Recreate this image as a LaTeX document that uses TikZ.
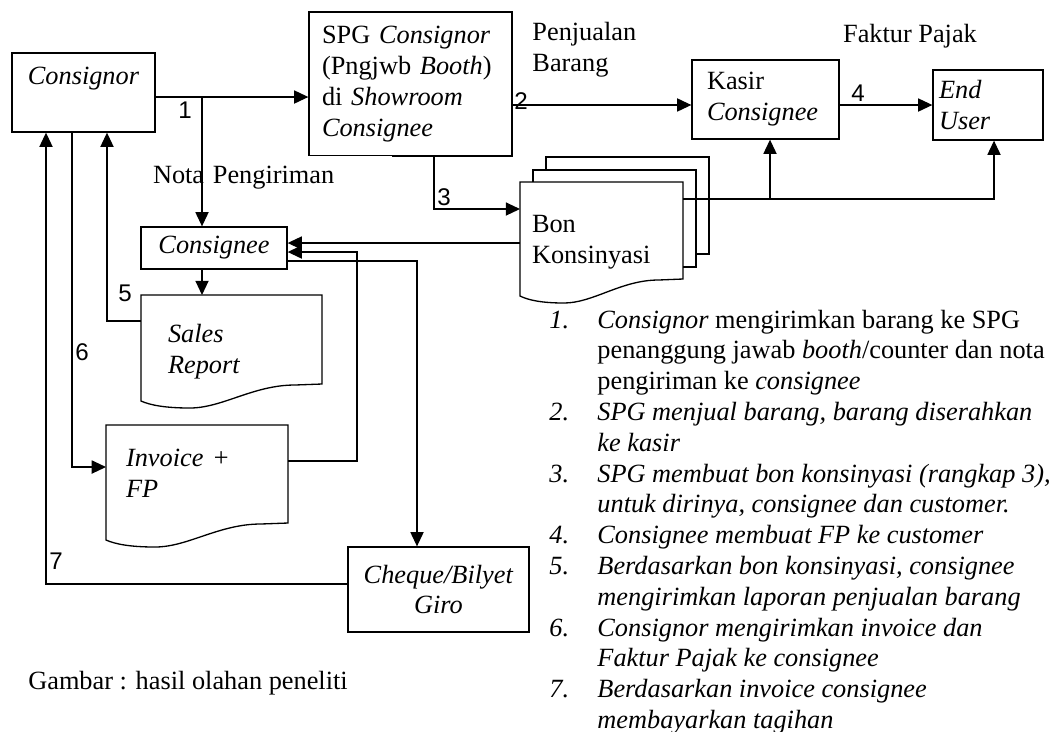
\documentclass[tikz,border=0pt]{standalone}
\usepackage{fontspec}
\setmainfont{Liberation Serif}
\newfontfamily\numfont{Liberation Sans}
\usepackage{tikz}
\usetikzlibrary{arrows.meta,calc,positioning}
\newlength{\px}
\setlength{\px}{0.456pt}
% document outline with wavy bottom
\newcommand{\docshape}[1]{%
  \draw[docline] (#1.north east) -- ($(#1.south east)+(0,-24)$)
    -- ($(#1.south west)!0.85!(#1.south east)+(0,-23)$)
    .. controls ($(#1.south west)!0.62!(#1.south east)+(0,-23)$) and ($(#1.south west)!0.45!(#1.south east)$) .. ($(#1.south west)!0.27!(#1.south east)$)
    .. controls ($(#1.south west)!0.13!(#1.south east)$) and ($(#1.south west)!0.05!(#1.south east)+(0,-3)$) .. ($(#1.south west)+(0,-7)$)
    -- (#1.north west) -- cycle;}

\begin{document}
\begin{tikzpicture}[
  x=\px, y=-\px,
  box/.style={rectangle,draw,line width=0.6pt,inner sep=0pt,font=\fontsize{12}{14.1}\selectfont},
  doc/.style={rectangle,inner sep=0pt,outer sep=0pt,align=left,font=\fontsize{12}{14.1}\selectfont\itshape},
  docline/.style={line width=0.6pt},
  note/.style={inner sep=0pt,font=\fontsize{12}{14.1}\selectfont},
  num/.style={inner sep=0pt,font=\numfont\fontsize{11}{13}\selectfont},
  arr/.style={-{Triangle[length=6.5pt,width=6pt]},line width=0.6pt}
]
  \useasboundingbox (0,0) rectangle (1059,731);

  % === Boxes ===
  \node[box,minimum width=143*\px,minimum height=79*\px,text height=8pt,text depth=15.7pt] (consignor) at (83.5,92.5) {\textit{Consignor}};
  \node[box,text width=177*\px,inner xsep=13*\px,minimum height=144*\px,align=left] (spg) at (410.5,84) {SPG \textit{Consignor}\\(Pngjwb \textit{Booth})\\di \textit{Showroom}\\\textit{Consignee}};
  \node[box,text width=117*\px,inner xsep=15*\px,minimum height=79*\px,align=left] (kasir) at (765.5,99.5) {Kasir\\\textit{Consignee}};
  \node[box,text width=98*\px,inner xsep=6*\px,minimum height=70*\px,align=left] (enduser) at (988,105) {\textit{End}\\\textit{User}};
  \node[box,minimum width=146*\px,minimum height=42*\px] (consignee) at (214,248) {\textit{Consignee}};
  \node[box,minimum width=181*\px,minimum height=85*\px,align=center] (cheque) at (438.5,589.5) {\textit{Cheque/Bilyet}\\\textit{Giro}};

  % === Documents ===
  \node[doc,text width=127*\px,inner xsep=27*\px,minimum height=113*\px] (sales) at (231.5,351.5) {Sales\\Report};
  \node[doc,text width=142*\px,inner xsep=20*\px,minimum height=122*\px,text height=8.2pt,text depth=26pt] (invoice) at (197,486) {Invoice +\\FP};
  \node[doc,text width=139*\px,inner xsep=12*\px,minimum height=121*\px,font=\fontsize{12}{14.1}\selectfont] (bon) at (601.5,242.5) {Bon\\Konsinyasi};
  \docshape{sales}
  \docshape{invoice}
  \docshape{bon}
  \draw[docline] ($(bon.north west)+(13,0)$) -- ++(0,-12) -| ($(bon.south east)+(13,-36)$) -- ++(-13,0);
  \draw[docline] ($(bon.north west)+(26,-12)$) -- ++(0,-13) -| ($(bon.south east)+(26,-49)$) -- ++(-13,0);

  % === Texts ===
  \node[note,fill=white,text width=228*\px,inner xsep=11*\px,minimum height=45*\px,align=left] (nota) at (267,178) {Nota Pengiriman};
  \node[note,anchor=west,align=left] (jual) at (532,50) {Penjualan\\Barang};
  \node[note] (faktur) at (910,36) {Faktur Pajak};
  \node[note] (gambar) at (188,683) {Gambar : hasil olahan peneliti};

  % === Flows ===
  \coordinate (c1) at (202,97);
  \draw[arr] (consignor.east |- c1) -- (spg.west |- c1);
  \draw[arr] (c1) -- (consignee.north -| c1);
  \coordinate (k2) at ([yshift=-2.5pt]kasir.west);
  \draw[arr] (spg.east |- k2) -- (k2);
  \draw[arr] (kasir.east |- enduser.west) -- (enduser.west);
  \coordinate (c3) at (434,209);
  \draw[arr] (spg.south -| c3) |- (bon.west |- c3);
  \coordinate (c4) at (770,199);
  \coordinate (c5) at (994,199);
  \draw[arr] (bon.east |- c4) -- (c5) -- (enduser.south -| c5);
  \draw[arr] (c4) -- (kasir.south -| c4);
  \draw[arr] (bon.west |- 0,243) -- (consignee.east |- 0,243);
  \draw[arr] (invoice.east |- 0,461) -| (357,252) -- (consignee.east |- 0,252);
  \draw[arr] (consignee.east |- 0,261) -| (cheque.north -| 417,0);
  \draw[arr] (consignee.south -| c1) -- (sales.north -| c1);
  \draw[arr] (sales.west |- 0,321) -| (consignor.south -| 107,0);
  \draw[arr] (consignor.south -| 72,0) |- (invoice.west |- 0,467);
  \draw[arr] (cheque.west |- 0,584) -| (consignor.south -| 46,0);

  % step numbers
  \node[num] (l1) at (185,110) {1};
  \node[num] (l2) at (521,101) {2};
  \node[num] (l3) at (444,197) {3};
  \node[num] (l4) at (858,93) {4};
  \node[num] (l5) at (125,293) {5};
  \node[num] (l6) at (82,352) {6};
  \node[num] (l7) at (56,561) {7};

  % === Steps ===
  \node[note,anchor=north west] (steps) at (549,306) {\fontsize{12}{14.05}\selectfont
    \begin{tabular}{@{}p{48\px}@{}l@{}}
    \textit{1.} & \textit{Consignor} mengirimkan barang ke SPG\\
     & penanggung jawab \textit{booth}/counter dan nota\\
     & pengiriman ke \textit{consignee}\\
    \textit{2.} & \textit{SPG menjual barang, barang diserahkan}\\
     & \textit{ke kasir}\\
    \textit{3.} & \textit{SPG membuat bon konsinyasi (rangkap 3),}\\
     & \textit{untuk dirinya, consignee dan customer.}\\
    \textit{4.} & \textit{Consignee membuat FP ke customer}\\
    \textit{5.} & \textit{Berdasarkan bon konsinyasi, consignee}\\
     & \textit{mengirimkan laporan penjualan barang}\\
    \textit{6.} & \textit{Consignor mengirimkan invoice dan}\\
     & \textit{Faktur Pajak ke consignee}\\
    \textit{7.} & \textit{Berdasarkan invoice consignee}\\
     & \textit{membayarkan tagihan}
    \end{tabular}};
\end{tikzpicture}
\end{document}
